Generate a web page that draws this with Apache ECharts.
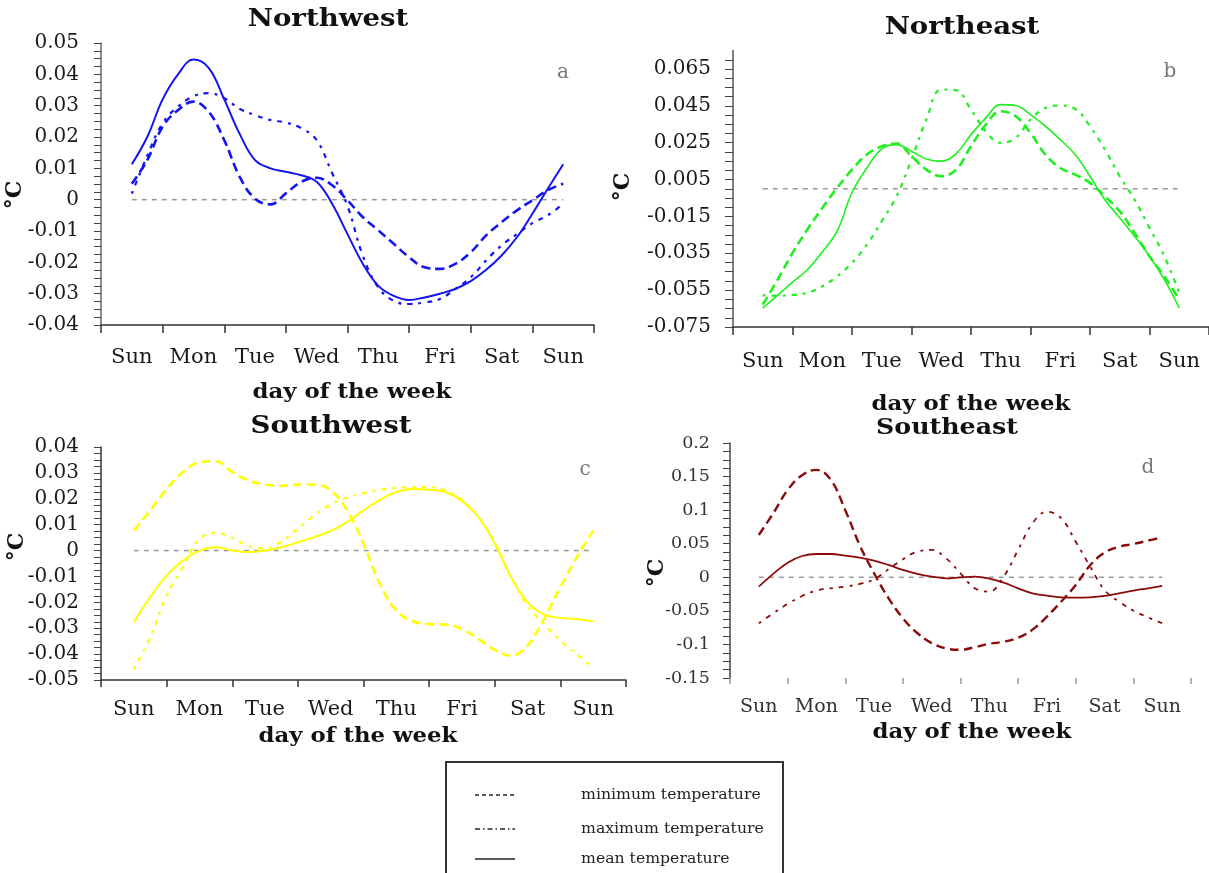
<!DOCTYPE html>
<html>
<head>
<meta charset="utf-8">
<script src="https://cdn.jsdelivr.net/npm/echarts@6/dist/echarts.min.js"></script>
<style>
  html, body { margin: 0; padding: 0; background: #ffffff; }
  #chart { width: 1209px; height: 873px; }
</style>
</head>
<body>
<div id="chart"></div>
<script>
// Sample positions in days from the first Sunday (0) to the following Sunday (7)
const days = [0, 0.25, 0.5, 0.75, 1, 1.25, 1.5, 1.75, 2, 2.25, 2.5, 2.75, 3, 3.25, 3.5,
              3.75, 4, 4.25, 4.5, 4.75, 5, 5.25, 5.5, 5.75, 6, 6.25, 6.5, 6.75, 7];
const dayLabels = ['Sun', 'Mon', 'Tue', 'Wed', 'Thu', 'Fri', 'Sat', 'Sun'];

// Northwest (°C)
const nwMin  = [0.0051, 0.0126, 0.0233, 0.0286, 0.0313, 0.028, 0.019, 0.0073, 0.0003, -0.0015, 0.002, 0.0057, 0.007, 0.0046, -0.0002,
                -0.0056, -0.0098, -0.0141, -0.0184, -0.0216, -0.0221, -0.0205, -0.0168, -0.0114, -0.0072, -0.0034, -0.0002, 0.003, 0.0051];
const nwMax  = [0.0019, 0.014, 0.0244, 0.0297, 0.033, 0.034, 0.0324, 0.029, 0.027, 0.0254, 0.0246, 0.0228, 0.019, 0.0085, -0.002,
                -0.018, -0.028, -0.0323, -0.0333, -0.0328, -0.0317, -0.0285, -0.0248, -0.0194, -0.0146, -0.011, -0.0075, -0.005, -0.0013];
const nwMean = [0.0113, 0.020, 0.032, 0.040, 0.0447, 0.042, 0.032, 0.021, 0.0126, 0.010, 0.0089, 0.0078, 0.0057, -0.0013, -0.011,
                -0.0205, -0.0275, -0.0307, -0.032, -0.0312, -0.030, -0.0285, -0.026, -0.0224, -0.0178, -0.012, -0.0045, 0.0035, 0.0113];

// Northeast (°C)
const neMin  = [-0.0629, -0.0493, -0.0348, -0.0221, -0.0104, 0.0005, 0.0104, 0.0186, 0.0231, 0.0245, 0.0177, 0.0104, 0.0068, 0.0104, 0.0231,
                0.0349, 0.0421, 0.0394, 0.0303, 0.0186, 0.0113, 0.0077, 0.0032, -0.004, -0.0122, -0.024, -0.0366, -0.0475, -0.0602];
const neMax  = [-0.0578, -0.058, -0.0576, -0.0565, -0.0529, -0.0475, -0.0402, -0.0303, -0.0176, -0.004, 0.0159, 0.0376, 0.0539, 0.0535, 0.043,
                0.0312, 0.0249, 0.0276, 0.0376, 0.0439, 0.0452, 0.0434, 0.034, 0.0213, 0.0068, -0.0059, -0.0212, -0.0366, -0.0565];
const neMean = [-0.0647, -0.0578, -0.0507, -0.0439, -0.0343, -0.023, -0.002, 0.0113, 0.0217, 0.024, 0.0204, 0.0162, 0.015, 0.0191, 0.0294,
                0.0385, 0.0457, 0.0452, 0.0403, 0.034, 0.0267, 0.0186, 0.0068, -0.0059, -0.0158, -0.0258, -0.0366, -0.0493, -0.0647];

// Southwest (°C)
const swMin  = [0.0077, 0.0155, 0.0238, 0.0303, 0.0341, 0.0345, 0.0303, 0.027, 0.0255, 0.025, 0.0255, 0.0255, 0.0232, 0.0155, 0.0026,
                -0.0129, -0.0232, -0.0273, -0.0284, -0.0286, -0.0303, -0.0341, -0.0384, -0.0406, -0.0367, -0.0264, -0.0142, -0.0026, 0.0077];
const swMax  = [-0.0457, -0.0335, -0.0174, -0.0064, 0.0045, 0.0068, 0.0048, 0.0018, 0.0008, 0.0035, 0.0085, 0.0135, 0.0178, 0.0204, 0.0222,
                0.0235, 0.0242, 0.0245, 0.0245, 0.0232, 0.0196, 0.0129, 0.0032, -0.0103, -0.0213, -0.0284, -0.0348, -0.04, -0.0454];
const swMean = [-0.0277, -0.018, -0.0097, -0.0039, 0, 0.0013, 0, -0.0006, 0, 0.0013, 0.0032, 0.0052, 0.0075, 0.011, 0.0155,
                0.0196, 0.0226, 0.0238, 0.0235, 0.0226, 0.0191, 0.0129, 0.0026, -0.0103, -0.02, -0.0247, -0.026, -0.0264, -0.0273];

// Southeast (°C)
const seMin  = [0.063, 0.0953, 0.13, 0.152, 0.16, 0.145, 0.1, 0.048, 0.006, -0.031, -0.061, -0.083, -0.098, -0.106, -0.108,
                -0.104, -0.099, -0.096, -0.09, -0.078, -0.0585, -0.036, -0.0114, 0.018, 0.0367, 0.0456, 0.0496, 0.0546, 0.0595];
const seMax  = [-0.0685, -0.0536, -0.0397, -0.0278, -0.0198, -0.0164, -0.0139, -0.0099, -0.003, 0.0119, 0.0268, 0.0382, 0.0407, 0.0283, 0.006,
                -0.0164, -0.0213, 0.001, 0.0407, 0.0804, 0.0977, 0.0878, 0.053, 0.016, -0.019, -0.0362, -0.0496, -0.0595, -0.0685];
const seMean = [-0.0139, 0.005, 0.0218, 0.0317, 0.0347, 0.0347, 0.0322, 0.0293, 0.0248, 0.0184, 0.0109, 0.005, 0.001, -0.0015, 0,
                0.001, -0.002, -0.0079, -0.0164, -0.0238, -0.0273, -0.0298, -0.0303, -0.0298, -0.0278, -0.0238, -0.0198, -0.0164, -0.0129];

// Zero reference line endpoints (days)
const zeroSpan = [0, 7];

const SERIF = '"DejaVu Serif", "Liberation Serif", serif';

const panels = [
  {
    title: 'Northwest', tag: 'a', color: '#1414f0',
    min: nwMin, max: nwMax, mean: nwMean,
    grid: { left: 101, top: 43, width: 493, height: 282 },
    y: { min: -0.04, max: 0.05, interval: 0.01, minor: 4 },
    yFont: 20, xFont: 21, yMargin: 22, xMargin: 22, tickLen: 7, xTickLen: 8,
    titlePos: [328, 20], namePos: [352, 393], unitPos: [15, 195], tagPos: [563, 73],
    titleFont: 24, axisColor: '#666', labelColor: '#1a1a1a', showXLine: true,
    widths: { min: 2.6, max: 2.2, mean: 2 }
  },
  {
    title: 'Northeast', tag: 'b', color: '#1ef01e',
    min: neMin, max: neMax, mean: neMean,
    grid: { left: 733, top: 50.6, width: 476, height: 276.4 },
    y: { min: -0.075, max: 0.075, interval: 0.005, minor: 0, labelStep: 0.02 },
    yFont: 20, xFont: 21, yMargin: 22, xMargin: 24, tickLen: 8, xTickLen: 8,
    titlePos: [962, 28], namePos: [971, 405], unitPos: [623, 187], tagPos: [1170, 72],
    titleFont: 24, axisColor: '#555', labelColor: '#1a1a1a', showXLine: true,
    widths: { min: 2.6, max: 2.2, mean: 1.6 }
  },
  {
    title: 'Southwest', tag: 'c', color: '#ffff00',
    min: swMin, max: swMax, mean: swMean,
    grid: { left: 101, top: 447, width: 525, height: 233 },
    y: { min: -0.05, max: 0.04, interval: 0.01, minor: 4 },
    yFont: 20, xFont: 21, yMargin: 22, xMargin: 19, tickLen: 7, xTickLen: 7,
    titlePos: [331, 427], namePos: [358, 737], unitPos: [17, 547], tagPos: [585, 470],
    titleFont: 24, axisColor: '#333', labelColor: '#1a1a1a', showXLine: true,
    widths: { min: 2.6, max: 2.2, mean: 2 }
  },
  {
    title: 'Southeast', tag: 'd', color: '#8b0a0a',
    min: seMin, max: seMax, mean: seMean,
    grid: { left: 730, top: 443, width: 461, height: 235 },
    y: { min: -0.15, max: 0.2, interval: 0.05, minor: 4 },
    yFont: 17.5, xFont: 19, yMargin: 20, xMargin: 20, tickLen: 7, xTickLen: 6,
    titlePos: [947, 428], namePos: [972, 733], unitPos: [657, 573], tagPos: [1148, 468],
    titleFont: 22, axisColor: '#444', labelColor: '#333', showXLine: false,
    widths: { min: 2.4, max: 1.8, mean: 1.8 }
  }
];

const pairs = (ys) => days.map((d, i) => [d, ys[i]]);

const grids = [], xAxes = [], yAxes = [], series = [], graphics = [];

panels.forEach((p, i) => {
  grids.push(Object.assign({ containLabel: false }, p.grid));

  // visible weekday axis (labels centred in each day band, ticks between days)
  xAxes.push({
    type: 'category', gridIndex: i, data: dayLabels, boundaryGap: true, position: 'bottom',
    axisLine: { show: p.showXLine, onZero: false, lineStyle: { color: '#333', width: 1.5 } },
    axisTick: { show: true, alignWithLabel: false, length: p.xTickLen,
                lineStyle: { color: p.showXLine ? '#333' : '#999', width: 1.5 } },
    axisLabel: { color: p.labelColor, fontFamily: SERIF, fontSize: p.xFont, margin: p.xMargin, interval: 0 },
    splitLine: { show: false }
  });
  // hidden numeric axis in days carrying the curves
  xAxes.push({
    type: 'value', gridIndex: i, min: -0.5, max: 7.5, show: false
  });

  const y = p.y;
  const yAxis = {
    type: 'value', gridIndex: i, min: y.min, max: y.max, interval: y.interval,
    axisLine: { show: true, onZero: false, lineStyle: { color: p.axisColor, width: 1.5 } },
    axisTick: { show: true, inside: false, length: p.tickLen, lineStyle: { color: '#444', width: 1 } },
    splitLine: { show: false },
    axisLabel: {
      color: p.labelColor, fontFamily: SERIF, fontSize: p.yFont, margin: p.yMargin,
      showMaxLabel: !y.labelStep, showMinLabel: true
    }
  };
  if (y.minor) {
    yAxis.minorTick = { show: true, splitNumber: y.minor, length: p.tickLen, lineStyle: { color: '#444', width: 1 } };
    yAxis.minorSplitLine = { show: false };
  }
  if (y.labelStep) {
    yAxis.axisLabel.formatter = (v) => {
      const k = (v - y.min) / y.labelStep;
      return Math.abs(k - Math.round(k)) < 1e-6 ? v.toFixed(3) : '';
    };
  }
  yAxes.push(yAxis);

  const base = { type: 'line', xAxisIndex: 2 * i + 1, yAxisIndex: i, showSymbol: false, symbol: 'none',
                 smooth: 0.4, silent: true, animation: false };

  series.push(Object.assign({}, base, {
    name: 'zero', smooth: false, data: zeroSpan.map(d => [d, 0]),
    lineStyle: { color: '#999', width: 1.5, type: [5, 5] }, z: 1
  }));
  series.push(Object.assign({}, base, {
    name: 'minimum temperature', data: pairs(p.min),
    lineStyle: { color: p.color, width: p.widths.min, type: [9, 5], cap: 'butt' }, z: 3
  }));
  series.push(Object.assign({}, base, {
    name: 'maximum temperature', data: pairs(p.max),
    lineStyle: { color: p.color, width: p.widths.max, type: [3, 6, 5, 6], cap: 'butt' }, z: 3
  }));
  series.push(Object.assign({}, base, {
    name: 'mean temperature', data: pairs(p.mean),
    lineStyle: { color: p.color, width: p.widths.mean, type: 'solid' }, z: 4
  }));

  graphics.push({
    type: 'text', x: p.titlePos[0], y: p.titlePos[1], scaleX: 1.15, z: 10,
    style: { text: p.title, font: 'bold ' + p.titleFont + 'px ' + SERIF, fill: '#111', align: 'center', verticalAlign: 'middle' }
  });
  graphics.push({
    type: 'text', x: p.namePos[0], y: p.namePos[1], scaleX: 1.14, z: 10,
    style: { text: 'day of the week', font: 'bold 20px ' + SERIF, fill: '#111', align: 'center', verticalAlign: 'middle' }
  });
  graphics.push({
    type: 'text', x: p.unitPos[0], y: p.unitPos[1], rotation: Math.PI / 2, z: 10,
    style: { text: '°C', font: 'bold 22px ' + SERIF, fill: '#111', align: 'center', verticalAlign: 'middle' }
  });
  graphics.push({
    type: 'text', x: p.tagPos[0], y: p.tagPos[1], z: 10,
    style: { text: p.tag, font: '20px ' + SERIF, fill: '#777', align: 'center', verticalAlign: 'middle' }
  });
});

// Line-style key in a framed box below the panels
const keyRows = [
  { label: 'minimum temperature', y: 795, dash: [4, 3] },
  { label: 'maximum temperature', y: 829, dash: [5, 3, 1.5, 3] },
  { label: 'mean temperature', y: 859, dash: null }
];
graphics.push({
  type: 'rect', shape: { x: 446, y: 762, width: 337, height: 130 }, z: 5,
  style: { fill: '#fff', stroke: '#333', lineWidth: 2 }
});
keyRows.forEach(r => {
  graphics.push({
    type: 'line', shape: { x1: 475, y1: r.y, x2: 515, y2: r.y }, z: 6,
    style: { stroke: '#222', lineWidth: 1.3, lineDash: r.dash }
  });
  graphics.push({
    type: 'text', x: 581, y: r.y, z: 6,
    style: { text: r.label, font: '15.7px ' + SERIF, fill: '#222', align: 'left', verticalAlign: 'middle' }
  });
});

const chart = echarts.init(document.getElementById('chart'), null, { renderer: 'canvas' });
chart.setOption({
  backgroundColor: '#ffffff',
  animation: false,
  grid: grids,
  xAxis: xAxes,
  yAxis: yAxes,
  series: series,
  graphic: graphics
});
</script>
</body>
</html>
